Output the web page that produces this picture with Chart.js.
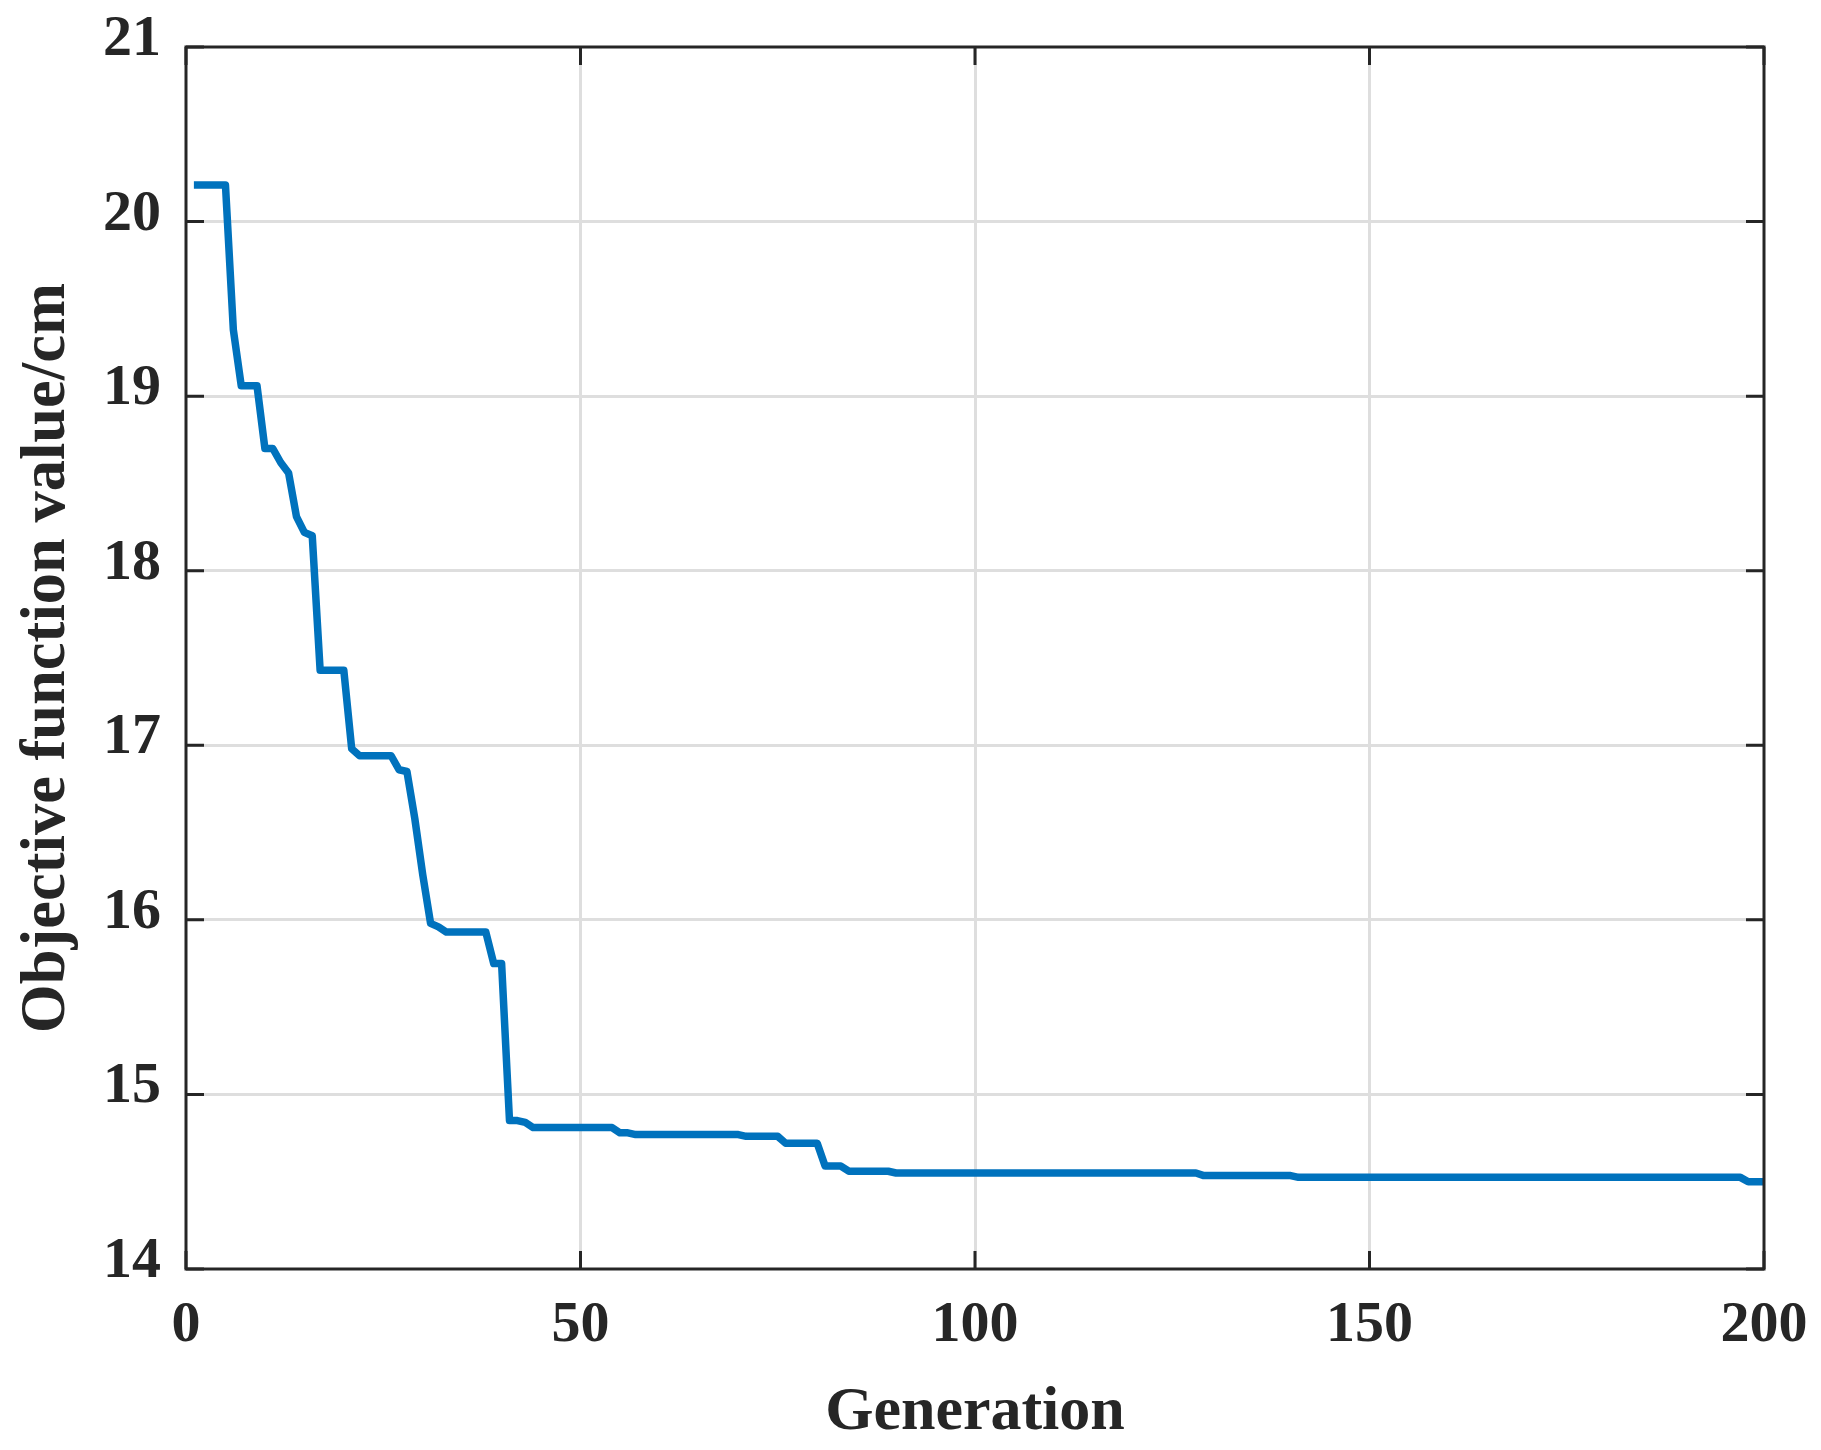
<!DOCTYPE html>
<html>
<head>
<meta charset="utf-8">
<style>
  html, body { margin: 0; padding: 0; background: #ffffff; }
  #wrap { width: 1821px; height: 1450px; }
</style>
<script src="https://cdn.jsdelivr.net/npm/chart.js@4.4.1/dist/chart.umd.min.js"></script>
</head>
<body>
<div id="wrap"><canvas id="convChart" width="1821" height="1450"></canvas></div>
<script>
// Best objective value found in each generation (generation 1 .. 200)
const objectiveValues = [
  20.21, 20.21, 20.21, 20.21, 20.21, 19.38, 19.06, 19.06, 19.06, 18.70,
  18.70, 18.62, 18.56, 18.31, 18.22, 18.20, 17.43, 17.43, 17.43, 17.43,
  16.98, 16.94, 16.94, 16.94, 16.94, 16.94, 16.86, 16.85, 16.58, 16.26,
  15.98, 15.96, 15.93, 15.93, 15.93, 15.93, 15.93, 15.93, 15.75, 15.75,
  14.85, 14.85, 14.84, 14.81, 14.81, 14.81, 14.81, 14.81, 14.81, 14.81,
  14.81, 14.81, 14.81, 14.81, 14.78, 14.78, 14.77, 14.77, 14.77, 14.77,
  14.77, 14.77, 14.77, 14.77, 14.77, 14.77, 14.77, 14.77, 14.77, 14.77,
  14.76, 14.76, 14.76, 14.76, 14.76, 14.72, 14.72, 14.72, 14.72, 14.72,
  14.59, 14.59, 14.59, 14.56, 14.56, 14.56, 14.56, 14.56, 14.56, 14.55,
  14.55, 14.55, 14.55, 14.55, 14.55, 14.55, 14.55, 14.55, 14.55, 14.55,
  14.55, 14.55, 14.55, 14.55, 14.55, 14.55, 14.55, 14.55, 14.55, 14.55,
  14.55, 14.55, 14.55, 14.55, 14.55, 14.55, 14.55, 14.55, 14.55, 14.55,
  14.55, 14.55, 14.55, 14.55, 14.55, 14.55, 14.55, 14.55, 14.535, 14.535,
  14.535, 14.535, 14.535, 14.535, 14.535, 14.535, 14.535, 14.535, 14.535, 14.535,
  14.525, 14.525, 14.525, 14.525, 14.525, 14.525, 14.525, 14.525, 14.525, 14.525,
  14.525, 14.525, 14.525, 14.525, 14.525, 14.525, 14.525, 14.525, 14.525, 14.525,
  14.525, 14.525, 14.525, 14.525, 14.525, 14.525, 14.525, 14.525, 14.525, 14.525,
  14.525, 14.525, 14.525, 14.525, 14.525, 14.525, 14.525, 14.525, 14.525, 14.525,
  14.525, 14.525, 14.525, 14.525, 14.525, 14.525, 14.525, 14.525, 14.525, 14.525,
  14.525, 14.525, 14.525, 14.525, 14.525, 14.525, 14.525, 14.50, 14.50, 14.50
];
const generations = objectiveValues.map((v, i) => i + 1);

const xTicks = [0, 50, 100, 150, 200];
const yTicks = [14, 15, 16, 17, 18, 19, 20, 21];

const xLabel = 'Generation';
const yLabel = 'Objective function value/cm';

const textColor = '#262626';
const serif = "'Liberation Serif', 'Times New Roman', serif";

// box around the plot + inward tick marks like matlab
const frameTicks = {
  id: 'frameTicks',
  afterDatasetsDraw(chart) {
    const { ctx, chartArea: a, scales: { x, y } } = chart;
    const len = 18;
    ctx.save();
    ctx.strokeStyle = textColor;
    ctx.lineWidth = 3;
    ctx.beginPath();
    xTicks.forEach(t => {
      const px = x.getPixelForValue(t);
      ctx.moveTo(px, a.bottom); ctx.lineTo(px, a.bottom - len);
      ctx.moveTo(px, a.top); ctx.lineTo(px, a.top + len);
    });
    yTicks.forEach(t => {
      const py = y.getPixelForValue(t);
      ctx.moveTo(a.left, py); ctx.lineTo(a.left + len, py);
      ctx.moveTo(a.right, py); ctx.lineTo(a.right - len, py);
    });
    ctx.stroke();
    ctx.strokeRect(a.left, a.top, a.right - a.left, a.bottom - a.top);
    ctx.restore();
  }
};

const ctx = document.getElementById('convChart').getContext('2d');
const convChart = new Chart(ctx, {
  type: 'line',
  data: {
    datasets: [{
      label: 'Objective',
      data: generations.map((g, i) => ({ x: g, y: objectiveValues[i] })),
      borderColor: '#0072BD',
      borderWidth: 7.5,
      pointRadius: 0,
      tension: 0,
      fill: false,
      borderJoinStyle: 'round'
    }]
  },
  options: {
    responsive: false,
    animation: false,
    devicePixelRatio: 1,
    layout: {
      padding: { top: 47, right: 57, left: 0, bottom: 0 }
    },
    plugins: {
      legend: { display: false },
      tooltip: { enabled: false }
    },
    scales: {
      x: {
        type: 'linear',
        min: 0,
        max: 200,
        afterBuildTicks: (scale) => { scale.ticks = xTicks.map(v => ({ value: v })); },
        afterFit: (scale) => {
          scale.height = 181;
          scale.paddingLeft = 0;
          scale.paddingRight = 0;
        },
        border: { display: false },
        grid: {
          color: (c) => (c.tick && (c.tick.value === 0 || c.tick.value === 200)) ? 'rgba(0,0,0,0)' : '#dedede',
          lineWidth: 3,
          drawTicks: false
        },
        ticks: {
          padding: 22,
          color: textColor,
          maxRotation: 0,
          font: { family: serif, size: 58, weight: 'bold' }
        },
        title: {
          display: true,
          text: xLabel,
          color: textColor,
          padding: { top: 0, bottom: 0 },
          font: { family: serif, size: 62, weight: 'bold' }
        }
      },
      y: {
        min: 14,
        max: 21,
        afterBuildTicks: (scale) => { scale.ticks = yTicks.map(v => ({ value: v })); },
        afterFit: (scale) => {
          scale.width = 186;
          scale.paddingTop = 0;
          scale.paddingBottom = 0;
        },
        border: { display: false },
        grid: {
          color: (c) => (c.tick && (c.tick.value === 14 || c.tick.value === 21)) ? 'rgba(0,0,0,0)' : '#dedede',
          lineWidth: 3,
          drawTicks: false
        },
        ticks: {
          padding: 25,
          labelOffset: -7,
          color: textColor,
          font: { family: serif, size: 58, weight: 'bold' }
        },
        title: {
          display: true,
          text: yLabel,
          color: textColor,
          padding: { top: 10, bottom: 0 },
          font: { family: serif, size: 62.5, weight: 'bold' }
        }
      }
    }
  },
  plugins: [frameTicks]
});
</script>
</body>
</html>
